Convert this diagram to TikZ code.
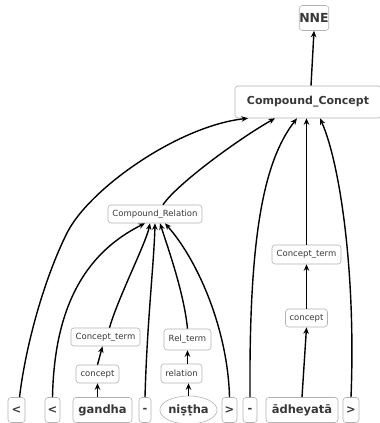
\documentclass[tikz,border=0pt]{standalone}
\usepackage{fontspec}
\setmainfont{DejaVu Sans}
\usetikzlibrary{arrows.meta,shapes.geometric}
\begin{document}
\begin{tikzpicture}[x=1pt,y=1pt,
  box/.style={draw=black!30, rounded corners=3pt, line width=0.6pt, inner sep=0pt, text=black!78},
  small/.style={box, font=\fontsize{8.5}{10}\selectfont, minimum height=18pt},
  word/.style={box, font=\fontsize{11.5}{13}\selectfont\bfseries, minimum height=25pt},
  link/.style={line width=1.4pt, -{Stealth[length=6.5pt,width=5.5pt]}}]
\useasboundingbox (0,0) rectangle (380,423);

% upper levels
\node[box, font=\fontsize{12.5}{14}\selectfont\bfseries, minimum width=28pt, minimum height=25pt] (nne) at (314,405) {NNE};
\node[box, font=\fontsize{11}{13}\selectfont\bfseries, minimum width=146pt, minimum height=32pt] (cc) at (308,321) {Compound\_Concept};
\node[small, minimum width=94pt] (cr) at (155,209) {Compound\_Relation};
\node[small, minimum width=69pt] (ctl) at (105.5,86) {Concept\_term};
\node[small, minimum width=43pt] (cl) at (97.5,49) {concept};
\node[small, minimum width=47pt, minimum height=21pt] (rt) at (187.5,83.5) {Rel\_term};
\node[small, minimum width=41pt, minimum height=19pt] (rel) at (181.5,49.5) {relation};
\node[small, minimum width=69pt, minimum height=19pt] (ctr) at (306.5,168.5) {Concept\_term};
\node[small, minimum width=42pt] (cr2) at (306.5,105) {concept};

% bottom row of tokens
\node[word, minimum width=17pt] (lt1) at (16.5,13) {<};
\node[word, minimum width=15pt] (lt2) at (52.5,13) {<};
\node[word, minimum width=59pt] (gandha) at (102.5,13) {gandha};
\node[word, minimum width=12pt] (d1) at (145,13) {-};
\node[word, shape=ellipse, rounded corners=0pt, minimum width=55pt, minimum height=28pt] (nistha) at (188.5,13) {niṣṭha};
\node[word, minimum width=15pt] (gt1) at (229.5,13) {>};
\node[word, minimum width=14pt] (d2) at (250,13) {-};
\node[word, minimum width=72pt] (adh) at (302,13) {ādheyatā};
\node[word, minimum width=16pt] (gt2) at (351,13) {>};

% short chains
\draw[link] ([xshift=3pt]cc.north) -- (nne.south);
\draw[link] ([xshift=-5pt]gandha.north) -- (cl.south);
\draw[link] (cl.north) -- ([xshift=-3pt]ctl.south);
\draw[link] (nistha.north) -- ([xshift=7pt]rel.south);
\draw[link] ([xshift=6pt]rel.north) -- (rt.south);
\draw[link] (adh.north) -- (cr2.south);
\draw[link] (cr2.north) -- (ctr.south);
\draw[link] (ctr.north) -- (cc.south -| ctr.north);

% into Compound_Concept
\draw[link] ([xshift=3pt]lt1.north) .. controls (26,80) and (45,146) .. (67,190)
  .. controls (89,234) and (178,297) .. ([xshift=-60pt]cc.south);
\draw[link] ([xshift=8pt]cr.north) .. controls (178,240) and (240,285) .. ([xshift=-33pt]cc.south);
\draw[link] (d2.north) .. controls (249,180) and (262,260) .. ([xshift=-11pt]cc.south);
\draw[link] (gt2.north) .. controls (356,150) and (340,260) .. ([xshift=12pt]cc.south);

% into Compound_Relation
\draw[link] (lt2.north) .. controls (54,100) and (75,165) .. ([xshift=-10pt]cr.south);
\draw[link] ([xshift=4pt]ctl.north) .. controls (118,125) and (146,180) .. ([xshift=-5pt]cr.south);
\draw[link] (d1.north) .. controls (147,100) and (154,160) .. (cr.south);
\draw[link] (rt.north) .. controls (184,130) and (168,175) .. ([xshift=5pt]cr.south);
\draw[link] (gt1.north) .. controls (228,90) and (200,160) .. ([xshift=10pt]cr.south);
\end{tikzpicture}
\end{document}
